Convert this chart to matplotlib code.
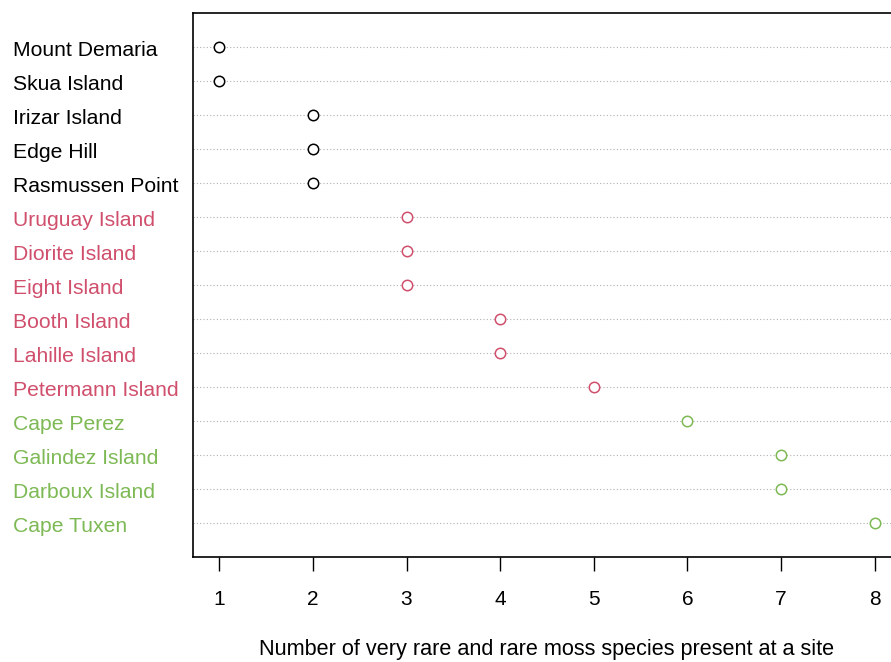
import matplotlib
matplotlib.use("Agg")
import matplotlib.pyplot as plt
import matplotlib.transforms as mtransforms

# sites listed top to bottom as in the chart
sites = ["Mount Demaria", "Skua Island", "Irizar Island", "Edge Hill", "Rasmussen Point",
         "Uruguay Island", "Diorite Island", "Eight Island", "Booth Island", "Lahille Island",
         "Petermann Island", "Cape Perez", "Galindez Island", "Darboux Island", "Cape Tuxen"]
counts = [1, 1, 2, 2, 2, 3, 3, 3, 4, 4, 5, 6, 7, 7, 8]
groups = [0, 0, 0, 0, 0, 1, 1, 1, 1, 1, 1, 2, 2, 2, 2]
group_colors = ["black", "#D04F6C", "#7DB954"]

plt.rcParams["font.family"] = ["Liberation Sans", "DejaVu Sans"]

fig = plt.figure(figsize=(8.91, 6.62), dpi=100)
W, H = 891, 662
left, right, top, bottom = 193, 901, 13, 557
ax = fig.add_axes([left / W, 1 - bottom / H, (right - left) / W, (bottom - top) / H])

n = len(sites)
ypos = [n - i for i in range(n)]

for y in ypos:
    ax.axhline(y, color="#b0b0b0", linestyle=(0, (1, 2)), linewidth=0.8, zorder=1)

for y, v, g in zip(ypos, counts, groups):
    ax.plot(v, y, marker="o", markersize=7.5, markerfacecolor="white",
            markeredgecolor=group_colors[g], markeredgewidth=1.1, linestyle="none", zorder=3)

lo, hi = min(counts), max(counts)
pad = (hi - lo) * 0.04
ax.set_xlim(lo - pad, hi + pad)
ax.set_ylim(0, n + 1)
ax.set_yticks([])
ax.set_xticks(range(1, 9))
ax.tick_params(axis="x", direction="out", length=10, width=1, pad=14, labelsize=15)
for s in ax.spines.values():
    s.set_linewidth(1.2)

# row labels sit a few pixels below each dotted line, as in R's dotchart
trans = mtransforms.blended_transform_factory(fig.transFigure, ax.transData) + \
    mtransforms.ScaledTranslation(0, -3 / 100, fig.dpi_scale_trans)
for y, name, g in zip(ypos, sites, groups):
    ax.text(13 / W, y, name, transform=trans, ha="left", va="center",
            fontsize=15.2, color=group_colors[g], clip_on=False)

fig.text(547 / W, 1 - 650 / H,
         "Number of very rare and rare moss species present at a site",
         ha="center", va="center", fontsize=15.6)

fig.savefig("out.png", dpi=100)
